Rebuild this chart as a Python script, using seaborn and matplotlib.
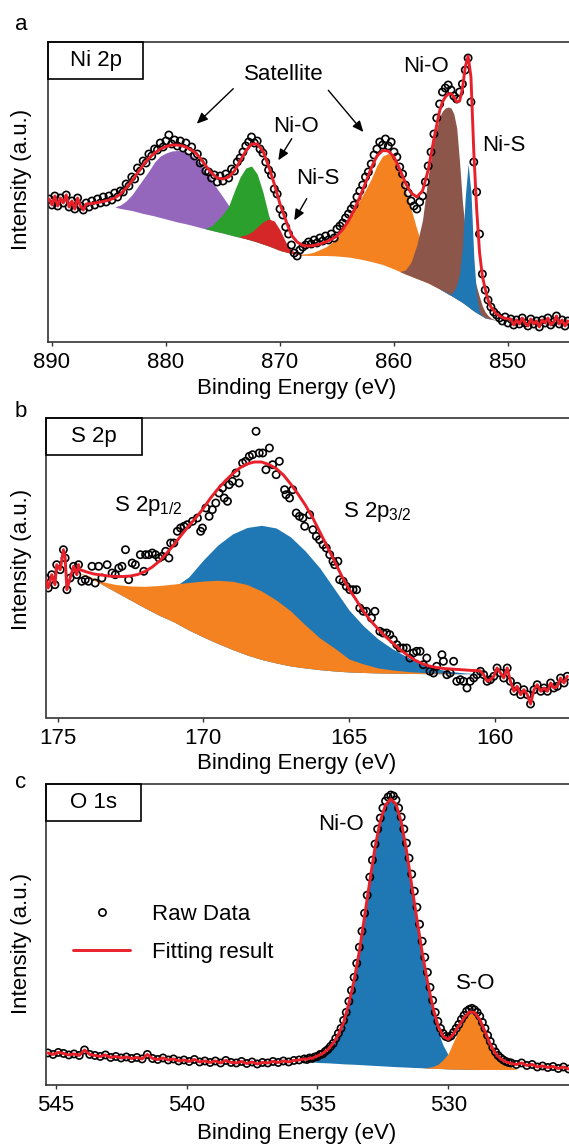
import numpy as np
import matplotlib
matplotlib.use("Agg")
import matplotlib.pyplot as plt
from matplotlib.patches import Rectangle
from matplotlib.lines import Line2D
import seaborn as sns

sns.set_theme(style="white")
plt.rcParams["font.family"] = ["Liberation Sans", "DejaVu Sans"]
plt.rcParams["mathtext.fontset"] = "custom"
plt.rcParams["mathtext.rm"] = "Liberation Sans"
plt.rcParams["mathtext.default"] = "regular"
plt.rcParams["text.color"] = "black"
plt.rcParams["xtick.color"] = "black"

# colours
PURPLE = "#9467bd"
GREEN = "#2ca02c"
RED = "#d62728"
ORANGE = "#f58220"
BROWN = "#8c564b"
BLUE = "#1f77b4"
FIT_RED = "#e8202a"
SPINE = "#333333"

# ---------------- panel a : Ni 2p ----------------
# raw data, 0.25 eV steps starting at 890.25 eV
a_raw_start, a_raw_step = 890.25, 0.25
a_raw_I = [143, 137, 146, 136, 144, 139, 147, 135, 141, 133,
           144, 136, 132, 139, 135, 141, 137, 143, 139, 145,
           140, 146, 142, 149, 145, 151, 150, 158, 156, 165,
           163, 174, 171, 181, 179, 188, 186, 193, 192, 199,
           195, 201, 207, 198, 202, 196, 201, 194, 199, 191,
           195, 186, 188, 179, 180, 171, 170, 164, 167, 160,
           166, 161, 168, 164, 173, 171, 180, 184, 190, 196,
           200, 205, 199, 201, 193, 189, 180, 172, 167, 153,
           148, 133, 127, 115, 108, 97, 89, 86, 92, 95,
           97, 100, 98, 102, 99, 104, 101, 106, 102, 108,
           104, 113, 116, 119, 124, 128, 133, 137, 145, 151,
           157, 165, 170, 178, 187, 193, 200, 197, 203, 196,
           200, 190, 185, 175, 168, 157, 149, 141, 136, 133,
           140, 146, 160, 176, 190, 208, 224, 238, 250, 254,
           257, 252, 246, 243, 250, 258, 272, 284, 240, 180,
           150, 108, 68, 52, 42, 35, 30, 27, 24, 21,
           25, 19, 23, 17, 22, 18, 24, 19, 16, 23,
           18, 21, 15, 22, 19, 24, 17, 20, 26, 18,
           22, 16, 21]

a_fit_E = [887.0, 886.5, 886.0, 885.5, 885.0, 884.5, 884.0, 883.5, 883.0, 882.5,
           882.0, 881.5, 881.0, 880.5, 880.0, 879.5, 879.0, 878.5, 878.0, 877.5,
           877.0, 876.5, 876.0, 875.5, 875.0, 874.5, 874.0, 873.5, 873.0, 872.5,
           872.0, 871.5, 871.0, 870.5, 870.0, 869.5, 869.0, 868.5, 868.0, 867.5,
           867.0, 866.5, 866.0, 865.5, 865.0, 864.5, 864.0, 863.5, 863.0, 862.5,
           862.0, 861.5, 861.0, 860.5, 860.0, 859.5, 859.0, 858.5, 858.0, 857.5,
           857.0, 856.5, 856.0, 855.75, 855.5, 855.25, 855.0, 854.75, 854.5, 854.25,
           854.0, 853.75, 853.5, 853.25, 853.0, 852.75, 852.5, 852.25, 852.0, 851.75,
           851.5, 851.0, 850.5, 850.0]
a_fit_I = [138, 138.5, 139.5, 140.5, 142, 144, 148, 154, 161, 169,
           177, 184, 189, 193, 195.5, 197, 197, 196, 193.5, 190,
           184, 176, 169, 164, 163, 165, 171, 181, 191, 198,
           198, 191, 176, 158, 138, 122, 107, 100, 96.5, 96,
           96.5, 98, 100, 102.5, 106, 112.5, 121, 132, 145, 159,
           174, 186, 191.5, 191, 185, 173, 159, 149, 145, 151,
           172, 203, 231, 240, 245, 248, 248.5, 245, 240, 241,
           253, 275, 286, 265, 190, 133, 90, 66, 53, 42,
           35, 28, 24.5, 23]

a_bg_E = a_fit_E[5:]
a_bg_I = [135, 133.5, 132.5, 131.5, 130, 128.5, 127.3, 126, 124.5, 123,
          121.5, 120, 118.8, 117.5, 116, 114.5, 113, 111.7, 110.3, 109,
          107.5, 106, 104.7, 103.3, 101.7, 100, 98, 96, 93.8, 91.5,
          90, 88.5, 87.6, 86.7, 86.6, 86.5, 86.5, 86.5, 86.3, 86,
          85.5, 85, 84, 83, 81.8, 80.5, 79, 77.5, 75.3, 73,
          70.5, 68, 65.8, 63.5, 61.3, 59, 56, 53, 51.4, 49.8,
          48.1, 46.5, 44.8, 43, 41.3, 39.5, 37.4, 35.3, 33.1, 31,
          29.2, 27.5, 25.8, 24, 23.4, 22.8, 21.5, 21, 20.5]

a_sat1_E = [884.5, 884.0, 883.5, 883.0, 882.5, 882.0, 881.5, 881.0, 880.5, 880.0,
            879.5, 879.0, 878.5, 878.0, 877.5, 877.0, 876.5, 876.0, 875.5, 875.0,
            874.5, 874.0, 873.5, 873.0, 872.5, 872.0, 871.5, 871.0]
a_sat1_I = [135, 137, 141, 147, 155, 163, 171, 180, 186, 189,
            191, 191.5, 191, 188.5, 184, 178, 170, 162, 153, 145,
            136.5, 127, 118, 111, 106, 102, 98.5, 96]
a_nio1_E = [876.5, 876.0, 875.5, 875.0, 874.5, 874.0, 873.5, 873.0, 872.5, 872.0,
            871.5, 871.0, 870.5, 870.0, 869.5, 869.0]
a_nio1_I = [114, 116, 122, 128, 136, 151, 165, 174, 176, 168,
            150, 127, 109, 99, 93, 89]
a_nis1_E = [873.5, 873.0, 872.5, 872.0, 871.5, 871.0, 870.5, 870.0, 869.5, 869.0,
            868.5, 868.0]
a_nis1_I = [106, 107, 110, 115, 120, 123, 121, 112, 100, 92, 88.5, 87]
a_sat2_E = [868.5, 868.0, 867.5, 867.0, 866.5, 866.0, 865.5, 865.0, 864.5, 864.0,
            863.5, 863.0, 862.5, 862.0, 861.5, 861.0, 860.5, 860.0, 859.5, 859.0,
            858.5, 858.0, 857.5, 857.0, 856.5, 856.0, 855.5, 855.0]
a_sat2_I = [88, 88, 88.5, 90, 92.5, 95, 99, 104, 112, 121,
            131, 142, 152, 163, 176.5, 186, 188.5, 185, 170, 152,
            133, 113, 95, 80, 68, 58, 51, 47]
a_nio2_E = [859.5, 859.0, 858.5, 858.0, 857.5, 857.0, 856.5, 856.0, 855.75, 855.5,
            855.25, 855.0, 854.75, 854.5, 854.25, 854.0, 853.75, 853.5, 853.25, 853.0,
            852.75, 852.5, 852.25, 852.0, 851.75, 851.5, 851.0]
a_nio2_I = [70.5, 72, 80, 97, 122, 166, 202, 225, 231, 234,
            235, 234, 228, 214, 180, 140, 112, 92, 78, 66,
            55, 45, 36, 30, 26.5, 24, 21.5]
a_nis2_E = [856.0, 855.75, 855.5, 855.25, 855.0, 854.75, 854.5, 854.25, 854.0, 853.75,
            853.5, 853.25, 853.0, 852.75, 852.5, 852.25, 852.0, 851.75, 851.5]
a_nis2_I = [53.5, 52, 50.5, 49, 48, 51, 57, 68, 95, 145,
            178, 150, 85, 45, 30, 26.5, 24.5, 23.6, 23]

# ---------------- panel b : S 2p ----------------
b_raw_E = [175.43, 175.32, 175.20, 175.09, 175.03, 174.91, 174.80, 174.74, 174.68, 174.57,
           174.45, 174.34, 174.28, 174.17, 174.05, 173.94, 173.82, 173.71, 173.59, 173.48,
           173.30, 173.13, 173.02, 172.90, 172.79, 172.67, 172.56, 172.44, 172.33, 172.16,
           172.04, 171.98, 171.87, 171.75, 171.64, 171.52, 171.41, 171.29, 171.18, 171.12,
           171.01, 170.89, 170.78, 170.66, 170.55, 170.37, 170.20, 170.09, 170.03, 169.91,
           169.80, 169.69, 169.57, 169.46, 169.34, 169.28, 169.17, 169.11, 169.00, 168.88,
           168.77, 168.65, 168.54, 168.42, 168.31, 168.19, 168.08, 167.96, 167.85, 167.73,
           167.62, 167.50, 167.39, 167.21, 167.16, 167.04, 166.93, 166.81, 166.70, 166.58,
           166.52, 166.35, 166.24, 166.12, 166.01, 165.89, 165.78, 165.66, 165.55, 165.49,
           165.38, 165.32, 165.20, 165.09, 164.97, 164.86, 164.74, 164.63, 164.51, 164.40,
           164.23, 164.11, 163.94, 163.83, 163.71, 163.60, 163.48, 163.36, 163.25, 163.14,
           163.02, 162.91, 162.79, 162.68, 162.56, 162.45, 162.33, 162.22, 162.10, 161.99,
           161.81, 161.76, 161.64, 161.53, 161.41, 161.30, 161.18, 161.07, 160.95, 160.84,
           160.72, 160.61, 160.49, 160.38, 160.26, 160.15, 160.03, 159.92, 159.80, 159.69,
           159.57, 159.46, 159.34, 159.23, 159.11, 159.00, 158.88, 158.77, 158.65, 158.54,
           158.42, 158.31, 158.19, 158.08, 157.97, 157.85, 157.74, 157.62, 157.51]
b_raw_I = [140, 130, 143.3, 133.3, 153.3, 148.3, 168.3, 160, 128.3, 140,
           151.7, 143.3, 153.3, 136.7, 138.3, 136.7, 151.7, 135, 151.7, 140,
           153.3, 145, 143.3, 150, 151.7, 168.3, 138.3, 155, 153.3, 163.3,
           146.7, 163.3, 163.3, 165, 163.3, 160, 161.7, 166.7, 160, 175,
           175, 186.7, 190, 191.7, 193.3, 196.7, 200, 186.7, 190, 210,
           201.7, 208.3, 215, 225, 230, 220, 216.7, 233.3, 236.7, 245,
           235, 255, 256.7, 261.7, 263.3, 286.7, 265, 265, 248.3, 270,
           253.3, 243.3, 256.7, 228.3, 223.3, 220, 228.3, 205, 201.7, 200,
           191.7, 203.3, 188.3, 181.7, 178.3, 173.3, 170, 163.3, 156.7, 153.3,
           156.7, 138.3, 136.7, 131.7, 128.3, 128.3, 128.3, 110, 106.7, 106.7,
           100, 106.7, 86.7, 85, 85, 83.3, 78.3, 73.3, 70, 70,
           70, 60, 65, 66.7, 66.7, 53.3, 60, 46.7, 45, 51.7,
           63.3, 56.7, 43.3, 45, 56.7, 36.7, 38.3, 36.7, 30, 36.7,
           40, 43.3, 46.7, 43.3, 36.7, 38.3, 41.7, 50, 45, 40,
           50, 36.7, 26.7, 31.7, 23.3, 28.3, 23.3, 14, 28.3, 33.3,
           26.7, 30, 26.7, 35, 30, 31.7, 40, 35, 41.7]

b_fit_E = [174.25, 174.0, 173.75, 173.5, 173.25, 173.0, 172.75, 172.5, 172.25, 172.0,
           171.75, 171.5, 171.25, 171.0, 170.75, 170.5, 170.25, 170.0, 169.75, 169.5,
           169.25, 169.0, 168.75, 168.5, 168.25, 168.0, 167.75, 167.5, 167.25, 167.0,
           166.75, 166.5, 166.25, 166.0, 165.75, 165.5, 165.25, 165.0, 164.75, 164.5,
           164.25, 164.0, 163.75, 163.5, 163.25, 163.0, 162.75, 162.5, 162.25, 162.0,
           161.75, 161.5, 161.25, 161.0, 160.75, 160.5]
b_fit_I = [148.5, 146, 144, 143, 142, 141.5, 141.5, 142, 143.5, 146.5,
           151, 157, 165, 173.5, 183, 192, 200.5, 209.5, 220, 229,
           237, 244, 250, 254, 256, 256, 253.5, 249.5, 243, 234,
           224, 213, 200.5, 186, 171.5, 157, 142, 129, 118, 106.5,
           97, 89, 81.5, 75, 68.5, 63, 58, 54.5, 52, 50.5,
           49.5, 49, 48.5, 48, 47.5, 47.3]

b_bg_E = [174.25, 174.0, 173.5, 173.0, 172.5, 172.0, 171.5, 171.0, 170.5, 170.0,
          169.5, 169.0, 168.5, 168.0, 167.5, 167.0, 166.5, 166.0, 165.5, 165.0,
          164.5, 164.0, 163.5, 163.0, 162.5, 162.0, 161.5, 161.0, 160.5]
b_bg_I = [145, 141.5, 134, 126, 118, 110, 102.5, 96, 88, 81,
          74.5, 68.5, 63, 58.5, 55, 52, 50, 48.3, 47, 46,
          45.5, 45, 44.8, 44.6, 44.4, 44.3, 44.2, 44.2, 44.2]
b_p32_E = b_bg_E[2:]
b_p32_I = [134.5, 127, 120, 114, 116, 131, 141, 158, 173, 184,
           190.5, 192.7, 190, 181, 167, 150, 129, 108, 92, 79,
           69, 61, 54, 49.3, 46.5, 45, 44.3]
b_p12_E = b_bg_E[:-1]
b_p12_I = [145, 143, 136.5, 133.5, 132, 131.7, 132.5, 134, 135.5, 137,
           137.7, 136.7, 133.5, 127, 118, 107, 93, 80, 70, 59,
           54, 50, 48, 46.5, 45.5, 45, 44.5, 44.2]

# ---------------- panel c : O 1s ----------------
c_left_start, c_left_step = 545.3, 0.2
c_left_I = [31.5, 30, 32, 31, 29.5, 30.5, 29, 34.5, 30, 29,
            28, 29.5, 27, 28, 26.5, 27.5, 26, 27, 25.5, 30,
            26, 25, 26.5, 24.5, 25.5, 23.5, 24.5, 23, 25, 22.5,
            23.5, 22, 23.5, 21.5, 24, 22, 21.5, 23, 21, 22.5,
            20.5, 22, 21.5, 23, 22, 23.5, 22.5, 24, 24.5, 25.5]
c_peak_start, c_peak_step = 535.4, 0.1
c_peak_I = [25, 26.5, 26, 27.5, 28, 30, 30.5, 33, 35, 38,
            41, 46, 51, 56, 64, 72, 83, 94, 107, 121,
            137, 153, 171, 189, 207, 224, 240, 255, 266, 276,
            283, 287, 289, 288, 284, 276, 267, 255, 241, 226,
            210, 193, 177, 160, 143, 127, 112, 97, 84, 72,
            63, 56, 51, 48, 47, 48.5, 52, 56, 60, 65,
            69, 73, 75, 76, 74.5, 72, 68, 62, 56, 49,
            43, 37, 32.5, 29, 26.5, 24.5, 23, 22, 21.5]
c_right_start, c_right_step = 527.4, 0.2
c_right_I = [20, 21.5, 19, 20, 17.5, 18.5, 17, 18, 16, 17.5, 15.5]

c_bg_E = [535.4, 535.2, 535.0, 534.8, 534.6, 534.4, 534.2, 534.0, 533.8, 533.6,
          533.4, 533.2, 533.0, 532.8, 532.6, 532.4, 532.2, 532.0, 531.8, 531.6,
          531.4, 531.2, 531.0, 530.8, 530.6, 530.4, 530.2, 530.0, 529.8, 529.6,
          529.4, 529.2, 529.0, 528.8, 528.6, 528.4, 528.2, 528.0, 527.8, 527.6,
          527.4]
c_bg_I = [23.5, 22.8, 22, 21.8, 21.6, 21.3, 21, 20.6, 20.4, 20.2,
          19.9, 19.6, 19.3, 19, 18.7, 18.4, 18.1, 17.8, 17.6, 17.4,
          17.1, 16.9, 16.7, 16.4, 16.2, 16, 15.8, 15.5, 15.4, 15.3,
          15.2, 15.1, 15, 15, 15, 15, 15, 15, 15, 15,
          15]
c_fit_E = c_bg_E[2:40]
c_fit_I = [28.5, 31, 35, 41, 50, 62, 81, 104, 133, 168,
           203, 237, 263, 279, 285, 280, 262, 234, 199, 165,
           132, 103, 78, 59, 48, 45, 50.5, 58.5, 66.5, 72.5,
           72, 65, 53, 40.5, 31, 25.5, 22.5, 21]
c_nio_E = c_bg_E[:35]
c_nio_I = [24, 25.5, 27.5, 30.5, 34.5, 40.5, 49.5, 61.5, 80.5, 103.5,
           132.5, 167.5, 202.5, 236.5, 262.5, 278.5, 284.5, 279.5, 261.5, 233,
           198, 163.5, 130, 100, 74, 53, 39, 29.5, 23, 19.5,
           17.5, 16.3, 15.6, 15.2, 15.05]
c_so_E = c_bg_E[22:]
c_so_I = [16.8, 17, 18, 20, 24.8, 31, 43, 54.3, 64.2, 71.2,
          71.4, 64.8, 53, 40.5, 31, 24, 20, 17.5, 15.5]

MARKER_S = 27
MARKER_LW = 1.2
FIT_LW = 2.1


def steps(start, step, values):
    return start - step * np.arange(len(values))


def draw_panel(ax, raw_E, raw_I, fit_E, fit_I, bg_E, bg_I, comps):
    raw_E = np.asarray(raw_E, dtype=float)
    raw_I = np.asarray(raw_I, dtype=float)
    base = dict(zip(bg_E, bg_I))
    for E, top, col in comps:
        ax.fill_between(E, [base[e] for e in E], top, color=col, lw=0, zorder=1)
    sns.scatterplot(x=raw_E, y=raw_I, ax=ax, marker="o", s=MARKER_S, facecolor="none",
                    edgecolor="black", linewidth=MARKER_LW, zorder=2)
    # fit envelope; outside the fitted window the red line follows the raw data
    left = raw_E > fit_E[0]
    right = raw_E < fit_E[-1]
    line_E = np.concatenate([raw_E[left], fit_E, raw_E[right]])
    line_I = np.concatenate([raw_I[left], fit_I, raw_I[right]])
    sns.lineplot(x=line_E, y=line_I, ax=ax, color=FIT_RED, lw=FIT_LW, sort=False,
                 estimator=None, zorder=3)


def style_axes(ax, xlim, ticks, name):
    ax.set_xlim(*xlim)
    ax.set_ylim(0, 300)
    ax.set_xticks(ticks)
    ax.set_xticklabels([str(t) for t in ticks])
    ax.set_yticks([])
    ax.set_xlabel("")
    ax.set_ylabel("")
    ax.tick_params(axis="x", direction="out", length=3, width=1, color=SPINE,
                   labelsize=16, pad=4.5, bottom=True, labelcolor="black")
    for side in ["top", "left", "bottom"]:
        ax.spines[side].set_color(SPINE)
        ax.spines[side].set_linewidth(1.2)
    ax.spines["right"].set_visible(False)
    w = 95 / (ax.get_position().width * 569)
    h = 37 / 300
    ax.add_patch(Rectangle((0, 1 - h), w, h, transform=ax.transAxes, fill=False,
                           ec="black", lw=1.2, zorder=5, clip_on=False))
    ax.text(w / 2, 1 - h / 2, name, transform=ax.transAxes, ha="center",
            va="center", fontsize=16, zorder=6)


W, H = 569, 1146
fig = plt.figure(figsize=(W / 100, H / 100), dpi=100)


def add_axes(left, top, bottom):
    return fig.add_axes([left / W, 1 - bottom / H, 1 - left / W, (bottom - top) / H])


ax_a = add_axes(48, 42, 342)
ax_b = add_axes(46.5, 418, 718)
ax_c = add_axes(45.5, 784, 1084.5)

# panel a
draw_panel(ax_a, steps(a_raw_start, a_raw_step, a_raw_I), a_raw_I, a_fit_E, a_fit_I,
           a_bg_E, a_bg_I,
           [(a_sat1_E, a_sat1_I, PURPLE), (a_nio1_E, a_nio1_I, GREEN),
            (a_nis1_E, a_nis1_I, RED), (a_sat2_E, a_sat2_I, ORANGE),
            (a_nio2_E, a_nio2_I, BROWN), (a_nis2_E, a_nis2_I, BLUE)])
style_axes(ax_a, (890.35, 844.65), [890, 880, 870, 860, 850], "Ni 2p")

arrow = dict(arrowstyle="-|>,head_length=0.5,head_width=0.22", color="black",
             lw=1.0, shrinkA=0, shrinkB=0, mutation_scale=13)
ax_a.text(869.65, 268, "Satellite", ha="center", va="center", fontsize=16)
ax_a.annotate("", xy=(877.3, 218.3), xytext=(874.1, 253.3), arrowprops=arrow)
ax_a.annotate("", xy=(862.69, 210), xytext=(865.76, 251.7), arrowprops=arrow)
ax_a.text(868.63, 215.3, "Ni-O", ha="center", va="center", fontsize=16)
ax_a.annotate("", xy=(870.15, 181.7), xytext=(868.97, 203.3), arrowprops=arrow)
ax_a.text(866.7, 164, "Ni-S", ha="center", va="center", fontsize=16)
ax_a.annotate("", xy=(868.75, 121.7), xytext=(867.66, 143.3), arrowprops=arrow)
ax_a.text(857.2, 275, "Ni-O", ha="center", va="center", fontsize=16)
ax_a.text(850.41, 196.7, "Ni-S", ha="center", va="center", fontsize=16)

# panel b
draw_panel(ax_b, b_raw_E, b_raw_I, b_fit_E, b_fit_I, b_bg_E, b_bg_I,
           [(b_p32_E, b_p32_I, BLUE), (b_p12_E, b_p12_I, ORANGE)])
style_axes(ax_b, (175.38, 157.45), [175, 170, 165, 160], "S 2p")
ax_b.text(173.07, 206.7, "S 2p$_{1/2}$", ha="left", va="baseline", fontsize=16)
ax_b.text(165.2, 201, "S 2p$_{3/2}$", ha="left", va="baseline", fontsize=16)

# panel c
c_raw_E = np.concatenate([steps(c_left_start, c_left_step, c_left_I),
                          steps(c_peak_start, c_peak_step, c_peak_I),
                          steps(c_right_start, c_right_step, c_right_I)])
c_raw_I = c_left_I + c_peak_I + c_right_I
draw_panel(ax_c, c_raw_E, c_raw_I, c_fit_E, c_fit_I, c_bg_E, c_bg_I,
           [(c_nio_E, c_nio_I, BLUE), (c_so_E, c_so_I, ORANGE)])
style_axes(ax_c, (545.39, 525.39), [545, 540, 535, 530], "O 1s")
ax_c.text(534.1, 260, "Ni-O", ha="center", va="center", fontsize=16)
ax_c.text(528.94, 101, "S-O", ha="center", va="center", fontsize=16)

handles = [Line2D([], [], marker="o", ls="none", mfc="none", mec="black",
                  mew=MARKER_LW, ms=np.sqrt(MARKER_S)),
           Line2D([], [], color=FIT_RED, lw=FIT_LW)]
ax_c.legend(handles, ["Raw Data", "Fitting result"], loc="upper left",
            bbox_to_anchor=(0.052, 0.60), frameon=False, fontsize=16,
            handlelength=2.6, handletextpad=0.95, labelspacing=0.75,
            borderpad=0, borderaxespad=0)

# shared labels placed in figure pixels
for y_lab, y_x, letter, y_letter in [(179, 388.8, "a", 30), (559, 764, "b", 417),
                                     (943, 1134, "c", 788)]:
    fig.text(22 / W, 1 - y_lab / H, "Intensity (a.u.)", rotation=90,
             ha="center", va="center", fontsize=16)
    fig.text(297 / W, 1 - y_x / H, "Binding Energy (eV)", ha="center",
             va="center", fontsize=16)
    fig.text(21 / W, 1 - y_letter / H, letter, ha="center", va="baseline",
             fontsize=16)

fig.savefig("out.png", dpi=100)
